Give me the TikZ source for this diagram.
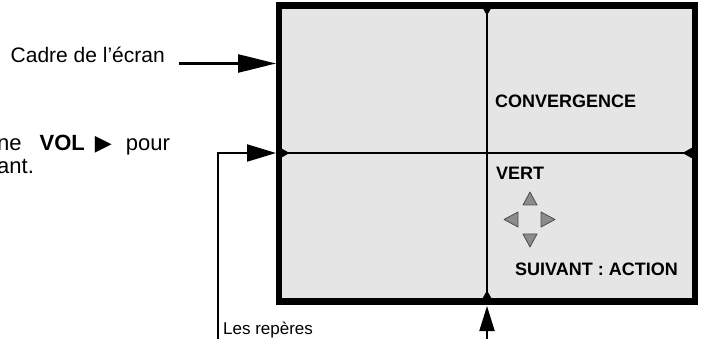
\documentclass[tikz,border=0pt]{standalone}
\usepackage{fontspec}
\setmainfont{Liberation Sans}
\newfontfamily\symfont{DejaVu Sans}
\usetikzlibrary{arrows.meta}
\definecolor{screen}{gray}{0.9}
\definecolor{keygray}{gray}{0.55}
\tikzset{
  txt/.style={inner sep=0pt, font=\fontsize{21}{25}\selectfont},
  osd/.style={inner sep=0pt, font=\fontsize{18}{22}\selectfont\bfseries},
  pointer/.style={line width=2.5pt},
  marker/.style={fill=black},
  key/.style={fill=keygray, draw=black!70, line width=0.8pt, line join=round}
}
\begin{document}
\begin{tikzpicture}[x=1pt,y=-1pt]
\useasboundingbox (0,0) rectangle (704,339);
% screen frame and its cross
\filldraw[fill=screen, draw=black, line width=6.5pt] (279,5.5) rectangle (695,301.5);
\draw[line width=2pt] (487,8) -- (487,298);
\draw[line width=2pt] (282,153) -- (692,153);
% small markers on the frame
\filldraw[marker] (483,8) -- (491,8) -- (487,15) -- cycle;
\filldraw[marker] (483,298) -- (491,298) -- (487,291) -- cycle;
\filldraw[marker] (282,149) -- (282,157) -- (289,153) -- cycle;
\filldraw[marker] (692,148) -- (692,158) -- (683,153) -- cycle;
% texts on the screen
\node[osd, anchor=base west] (conv) at (495,108) {CONVERGENCE};
\node[osd, anchor=base west] (vert) at (496,180) {VERT};
\node[osd, anchor=base west] (action) at (515,275) {SUIVANT : ACTION};
% direction keys
\draw[key] (523,205) -- (537,205) -- (530,192) -- cycle;
\draw[key] (523,234) -- (537,234) -- (530,247) -- cycle;
\draw[key] (518,212) -- (518,227) -- (504,219.5) -- cycle;
\draw[key] (541,212) -- (541,227) -- (555,219.5) -- cycle;
% labels outside
\node[txt, anchor=base east] (cadre) at (165,63) {Cadre de l’écran};
\node[txt, font=\fontsize{22}{26}\selectfont, anchor=base west] (vol) at (-3,151)
  {ne\hspace{18pt}\textbf{VOL}\hspace{10pt}{\symfont ▶}\hspace{14pt}pour};
\node[txt, font=\fontsize{22}{26}\selectfont, anchor=base west] (suiv) at (-3,174) {ant.};
\node[inner sep=0pt, font=\fontsize{17}{20}\selectfont, anchor=base west] (reperes) at (223,334) {Les repères};
% pointers
\coordinate (cadreA) at (179,63.5);
\coordinate (cadreB) at (276,63.5);
\coordinate (repA) at (218,342);
\coordinate (repB) at (218,153);
\coordinate (repC) at (276,153);
\coordinate (croixA) at (487,342);
\coordinate (croixB) at (487,306);
\draw[pointer, -{Triangle[length=38pt,width=18pt]}] (cadreA) -- (cadreB);
\draw[line width=2pt, -{Triangle[length=29pt,width=17pt]}] (repA) -- (repB) -- (repC);
\draw[line width=2pt, -{Triangle[length=25pt,width=15pt]}] (croixA) -- (croixB);
\end{tikzpicture}
\end{document}
